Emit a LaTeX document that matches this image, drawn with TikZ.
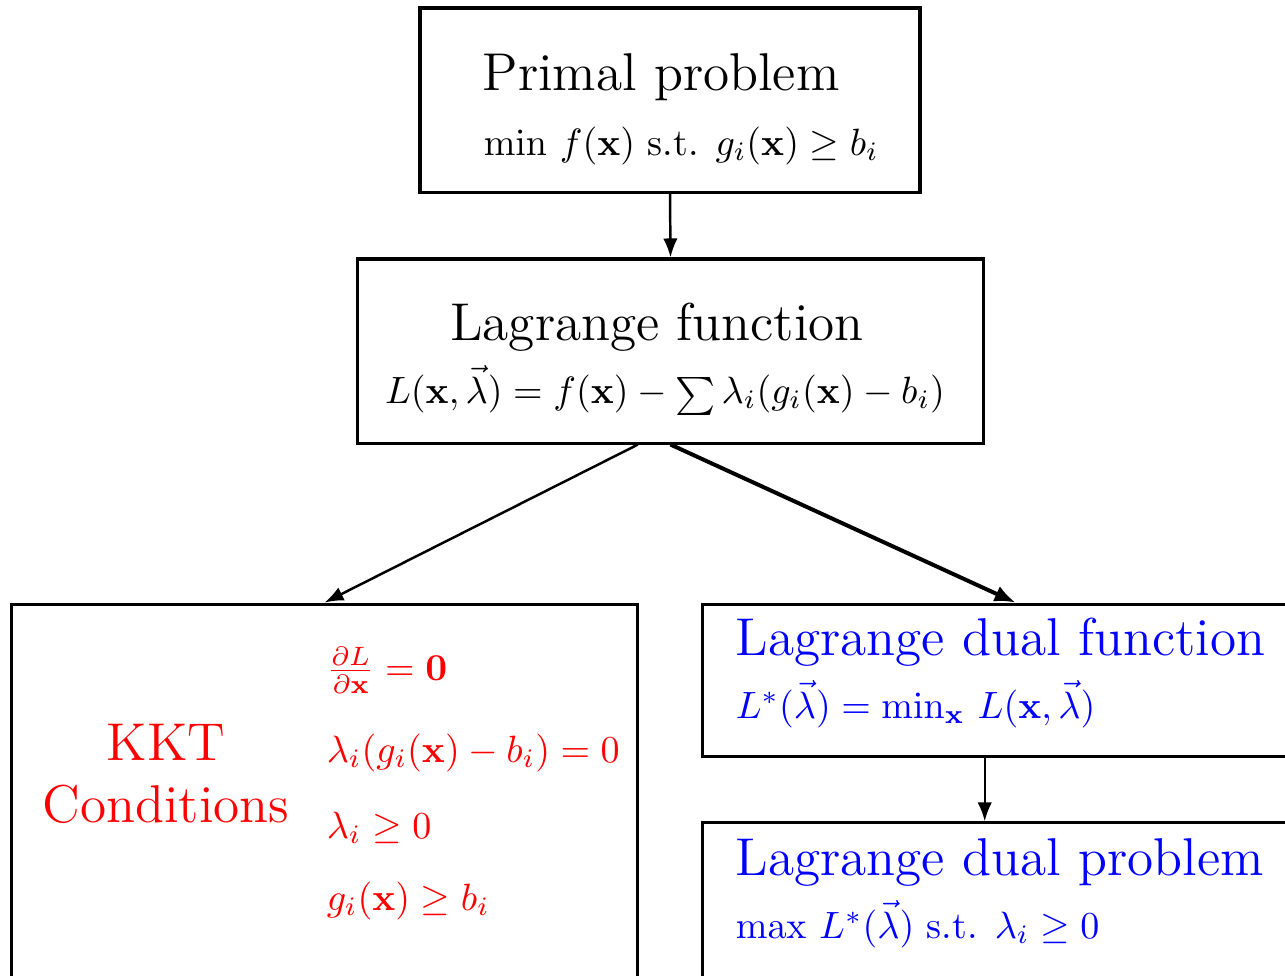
\documentclass[tikz,border=0pt]{standalone}
\usetikzlibrary{arrows.meta,calc}
\newcommand\bigtxt{\fontsize{14}{17}\selectfont}
\newcommand\smallsum{\mathop{\scriptstyle\sum}}
\begin{document}
\begin{tikzpicture}[x=0.263pt,y=-0.263pt,
  box/.style={draw,line width=0.8pt,inner sep=0pt},
  txt/.style={inner sep=0pt,anchor=base},
  ltxt/.style={inner sep=0pt,anchor=base west},
  arr/.style={-{Latex[length=5pt,width=3.8pt]},line width=0.65pt},
  thickarr/.style={-{Latex[length=5.5pt,width=4.4pt]},line width=1.05pt}]
\useasboundingbox (0,0) rectangle (1285,975);
\clip (0,0) rectangle (1285,975);
% boxes
\node[box,minimum width=131.5pt,minimum height=48.4pt] (primal) at (670,100) {};
\node[box,minimum width=164.4pt,minimum height=48.4pt] (lag) at (670.5,351) {};
\node[box,minimum width=164.4pt,minimum height=130.4pt] (kkt) at (324.5,852) {};
\node[box,minimum width=164.4pt,minimum height=40.2pt] (dualf) at (1015.5,680.5) {};
\node[box,minimum width=164.4pt,minimum height=72.9pt] (dualp) at (1015.5,961.5) {};
% texts
\node[txt,font=\bigtxt] (primalT) at (661,90) {Primal problem};
\node[ltxt] (primalM) at (483,155) {$\min\, f(\mathbf{x})$ s.t. $g_i(\mathbf{x})\ge b_i$};
\node[txt,font=\bigtxt] (lagT) at (657,340) {Lagrange function};
\node[txt] (lagM) at (665,403) {$L(\mathbf{x},\vec{\lambda}) = f(\mathbf{x}) - \smallsum\lambda_i(g_i(\mathbf{x})-b_i)$};
\node[txt,font=\bigtxt,text=red] (kktT1) at (166,760) {KKT};
\node[txt,font=\bigtxt,text=red] (kktT2) at (166,822) {Conditions};
\node[ltxt,text=red] (kkt1) at (326,680) {$\frac{\partial L}{\partial\mathbf{x}} = \mathbf{0}$};
\node[ltxt,text=red] (kkt2) at (326,762) {$\lambda_i(g_i(\mathbf{x})-b_i)=0$};
\node[ltxt,text=red] (kkt3) at (326,838) {$\lambda_i\ge 0$};
\node[ltxt,text=red] (kkt4) at (326,910) {$g_i(\mathbf{x})\ge b_i$};
\node[ltxt,font=\bigtxt,text=blue] (dualfT) at (735,655) {Lagrange dual function};
\node[ltxt,text=blue] (dualfM) at (735,718) {$L^*(\vec{\lambda}) = \min_{\mathbf{x}}\, L(\mathbf{x},\vec{\lambda})$};
\node[ltxt,font=\bigtxt,text=blue] (dualpT) at (735,875) {Lagrange dual problem};
\node[ltxt,text=blue] (dualpM) at (735,938) {$\max\, L^*(\vec{\lambda})$ s.t. $\lambda_i\ge 0$};
% connectors
\draw[arr] (primal.south) -- (lag.north);
\draw[arr] ($(lag.south west)!0.448!(lag.south east)$) -- (kkt.north);
\draw[thickarr] (lag.south) -- (dualf.north);
\draw[arr] ($(dualf.south west)!0.451!(dualf.south east)$) -- ($(dualp.north west)!0.451!(dualp.north east)$);
\end{tikzpicture}
\end{document}
